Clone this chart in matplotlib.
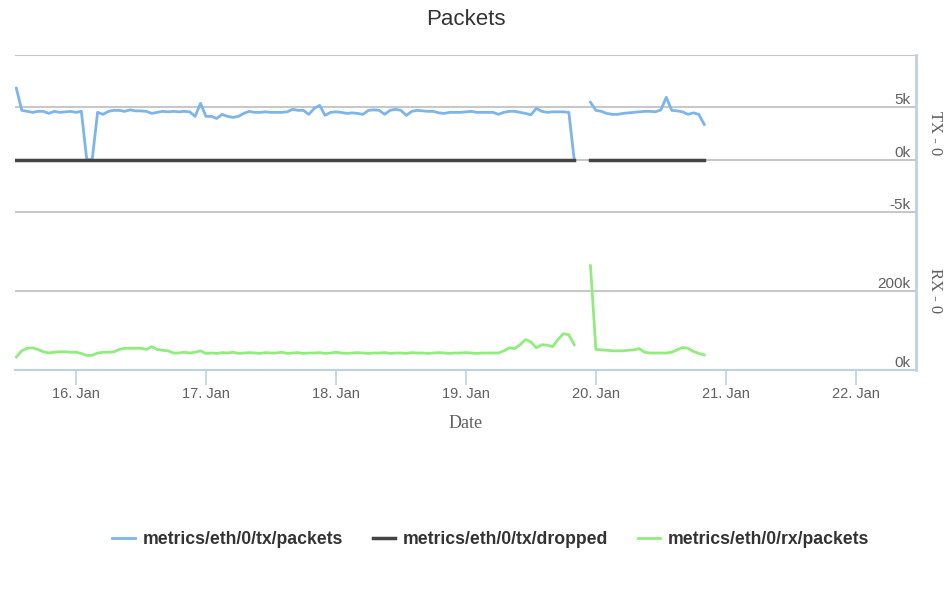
import matplotlib

matplotlib.use("Agg")
import matplotlib.pyplot as plt
import matplotlib.dates as mdates
import numpy as np
from matplotlib.ticker import FixedLocator, FixedFormatter


# hourly samples, first segment starts 15 Jan 13:00, second 19 Jan 23:00 (h=119)
SEG1_START_H = 13
SEG2_START_H = 119

tx_packets_1 = [
    6830, 4710, 4615, 4520, 4615, 4615, 4420, 4615, 4520, 4570, 4615, 4520, 4615,
    0, 0, 4520, 4330, 4615, 4710, 4710, 4615, 4760, 4660, 4660, 4615, 4420, 4520,
    4615, 4570, 4615, 4570, 4615, 4570, 4135, 5385, 4135, 4135, 3940, 4330, 4135,
    4040, 4135, 4420, 4615, 4520, 4520, 4570, 4520, 4520, 4520, 4570, 4810, 4710,
    4710, 4330, 4900, 5190, 4230, 4520, 4570, 4520, 4420, 4470, 4420, 4330, 4710,
    4760, 4710, 4330, 4710, 4810, 4710, 4230, 4615, 4710, 4660, 4615, 4615, 4470,
    4420, 4520, 4520, 4520, 4570, 4615, 4520, 4520, 4520, 4520, 4330, 4520, 4615,
    4615, 4520, 4420, 4280, 4900, 4615, 4520, 4570, 4570, 4570, 4520, 0,
]
tx_packets_2 = [
    5480, 4710, 4615, 4420, 4330, 4330, 4420, 4470, 4520, 4570, 4615, 4615, 4570,
    4760, 5960, 4710, 4660, 4570, 4330, 4470, 4330, 3370,
]
tx_dropped_1 = [0] * len(tx_packets_1)
tx_dropped_2 = [0] * len(tx_packets_2)

rx_packets_1 = [
    33000, 48500, 55000, 56000, 52000, 46000, 43000, 45000, 46000, 46000, 45000,
    45000, 42000, 37000, 37000, 43000, 45000, 45000, 46000, 52000, 55000, 55000,
    55000, 55000, 52000, 59000, 52000, 50000, 48500, 43000, 43000, 45000, 43000,
    45000, 48500, 42000, 43000, 42000, 44000, 43000, 45000, 42000, 43000, 44000,
    43000, 42000, 44000, 43000, 43000, 45000, 42000, 43000, 44000, 42000, 43000,
    43000, 44000, 42000, 43000, 45000, 43000, 42000, 43000, 44000, 43000, 42000,
    43000, 43000, 44000, 42000, 43000, 43000, 42000, 44000, 43000, 43000, 42000,
    43000, 44000, 43000, 42000, 43000, 43000, 44000, 43000, 42000, 43000, 43000,
    43000, 43000, 48500, 56000, 54000, 64000, 77000, 71000, 56000, 64000, 63000,
    59000, 77000, 92000, 89000, 64000,
]
rx_packets_2 = [
    264000, 52000, 51000, 50000, 48500, 48500, 48500, 50000, 51000, 54000, 45000,
    43000, 43000, 43000, 43000, 45000, 51000, 57000, 55000, 47000, 42000, 38000,
]

tx_ticks = [-5000, 0, 5000, 10000]
tx_tick_labels = ["-5k", "0k", "5k", ""]
rx_ticks = [0, 200000, 400000]
rx_tick_labels = ["0k", "200k", ""]

legend_labels = [
    "metrics/eth/0/tx/packets",
    "metrics/eth/0/tx/dropped",
    "metrics/eth/0/rx/packets",
]

BLUE = "#7cb5ec"
DARK = "#434348"
GREEN = "#90ed7d"
GRID = "#c8c8c8"
AXIS = "#c0d0e0"
TEXT = "#606060"

plt.rcParams["font.family"] = ["Liberation Sans", "DejaVu Sans"]

base = np.datetime64("2016-01-15T00:00")


def hours(start, values):
    return base + (start + np.arange(len(values))) * np.timedelta64(1, "h")


W, H = 948, 592
fig = plt.figure(figsize=(W / 100, H / 100), dpi=100)
left, right = 15, 916
ax_tx = fig.add_axes([left / W, 1 - 212 / H, (right - left) / W, 157 / H])
ax_rx = fig.add_axes([left / W, 1 - 370 / H, (right - left) / W, 158 / H], sharex=ax_tx)

h_tx, = ax_tx.plot(hours(SEG1_START_H, tx_packets_1), tx_packets_1, color=BLUE, lw=2, zorder=3)
ax_tx.plot(hours(SEG2_START_H, tx_packets_2), tx_packets_2, color=BLUE, lw=2, zorder=3)
h_drop, = ax_tx.plot(hours(SEG1_START_H, tx_dropped_1), tx_dropped_1, color=DARK, lw=2.5, zorder=4)
ax_tx.plot(hours(SEG2_START_H, tx_dropped_2), tx_dropped_2, color=DARK, lw=2.5, zorder=4)
h_rx, = ax_rx.plot(hours(SEG1_START_H, rx_packets_1), rx_packets_1, color=GREEN, lw=2, zorder=3)
ax_rx.plot(hours(SEG2_START_H, rx_packets_2), rx_packets_2, color=GREEN, lw=2, zorder=3)

ax_tx.set_ylim(-5000, 10000)
ax_rx.set_ylim(0, 400000)
ax_tx.set_xlim(base + np.timedelta64(765, "m"), base + np.timedelta64(179 * 60 + 6, "m"))

for ax, ticks, labels, title in [
    (ax_tx, tx_ticks, tx_tick_labels, "TX - 0"),
    (ax_rx, rx_ticks, rx_tick_labels, "RX - 0"),
]:
    ax.set_facecolor("none")
    ax.yaxis.set_major_locator(FixedLocator(ticks))
    ax.yaxis.set_major_formatter(FixedFormatter(labels))
    ax.yaxis.tick_right()
    ax.yaxis.set_label_position("right")
    ax.tick_params(axis="y", length=0, pad=-4, labelsize=11, labelcolor=TEXT)
    for lab in ax.get_yticklabels():
        lab.set_horizontalalignment("right")
        lab.set_verticalalignment("bottom")
    ax.grid(axis="y", color=GRID, lw=1.5, zorder=1)
    for side in ["top", "left", "bottom"]:
        ax.spines[side].set_visible(False)
    ax.spines["right"].set_color(AXIS)
    ax.spines["right"].set_linewidth(2)
    ax.set_ylabel(title, rotation=270, family="Liberation Serif", fontsize=12,
                  color=TEXT, va="center", ha="center")
    ax.yaxis.set_label_coords((935 - left) / (right - left), 0.5)

ax_tx.tick_params(axis="x", which="both", bottom=False, labelbottom=False)
ax_rx.spines["bottom"].set_visible(True)
ax_rx.spines["bottom"].set_color(AXIS)
ax_rx.spines["bottom"].set_linewidth(1.5)
ax_rx.xaxis.set_major_locator(mdates.DayLocator())
ax_rx.xaxis.set_major_formatter(mdates.DateFormatter("%d. %b"))
ax_rx.tick_params(axis="x", length=11, width=1.2, color=AXIS, labelsize=10.5,
                  labelcolor=TEXT, pad=1)
ax_rx.set_xlabel("Date", family="Liberation Serif", fontsize=13, color=TEXT, labelpad=10)

fig.suptitle("Packets", x=(left + right) / 2 / W, y=1 - 9 / H, va="top",
             fontsize=16, color="#333333")

fig.legend([h_tx, h_drop, h_rx], legend_labels, loc="center", ncol=3,
           bbox_to_anchor=(491 / W, 1 - 540 / H), frameon=False,
           prop={"weight": "bold", "size": 12.7}, labelcolor="#333333",
           handlelength=1.25, handletextpad=0.45, columnspacing=1.7)

fig.savefig("out.png", dpi=100)
